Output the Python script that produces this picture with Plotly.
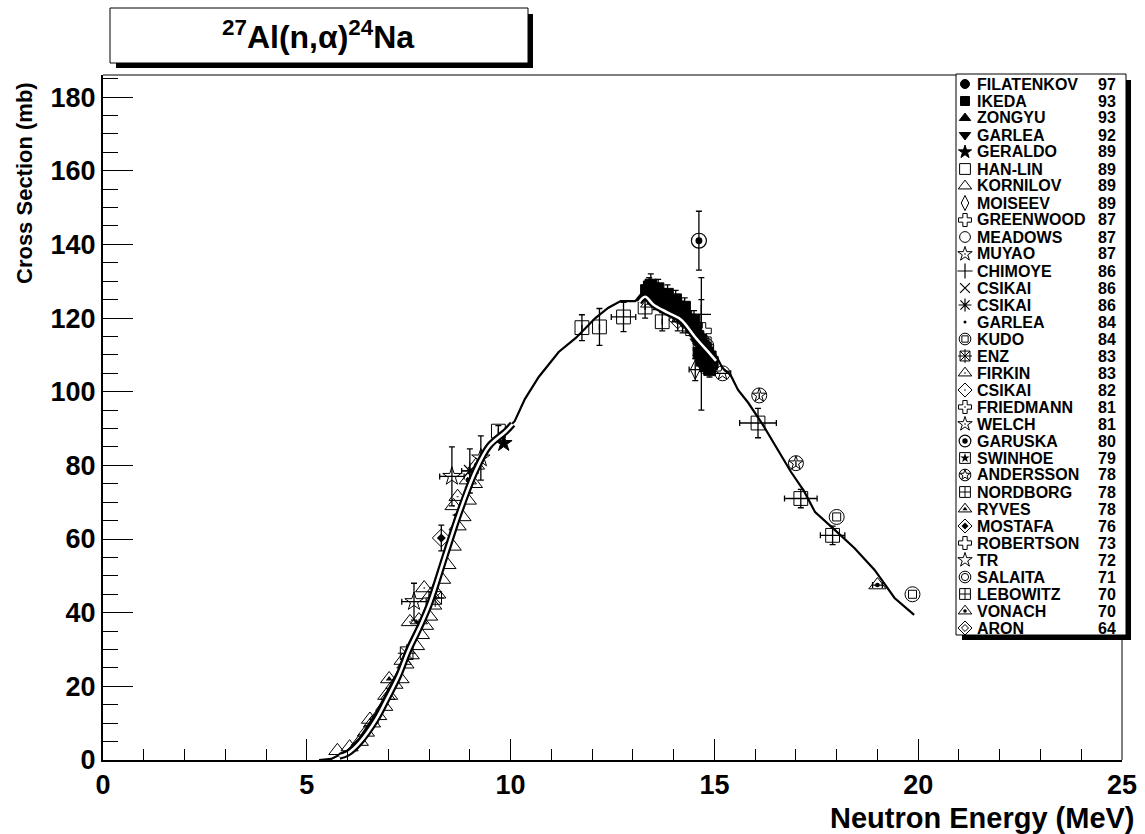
import plotly.graph_objects as go

# ---------------- data ----------------
curve_x = [5.30, 5.60, 6.00, 6.30, 6.70, 7.00, 7.25, 7.50, 7.75, 8.00, 8.40, 8.73, 9.14, 9.47, 9.88,
           10.10, 10.35, 10.69, 11.18, 11.60, 12.08, 12.40, 12.70, 13.06, 13.20, 13.50, 13.87, 14.19,
           14.53, 14.85, 15.04, 15.20, 15.40, 15.58, 15.83, 16.19, 16.88, 17.20, 17.47, 17.96, 18.44,
           18.93, 19.42, 19.90]
curve_y = [0.0, 0.3, 2.5, 6.0, 12.7, 19.0, 24.4, 31.5, 37.0, 43.4, 57.0, 68.0, 79.6, 86.0, 89.6,
           92.0, 98.0, 104.0, 110.8, 114.6, 120.0, 122.8, 124.6, 124.6, 126.5, 124.7, 122.6, 120.7,
           116.0, 112.0, 109.8, 106.4, 104.5, 100.5, 97.0, 91.0, 78.2, 73.0, 67.3, 62.4, 57.5,
           51.6, 44.0, 39.4]

bandA_x = [5.80, 6.00, 6.30, 6.70, 7.00, 7.25, 7.50, 7.75, 8.00, 8.40, 8.73, 9.14, 9.47, 9.88, 10.05]
bandA_y = [1.0, 1.8, 4.8, 11.0, 17.3, 22.8, 29.8, 35.6, 42.0, 55.6, 66.7, 78.5, 85.2, 89.2, 91.2]
bandB_x = [13.15, 13.30, 13.50, 13.87, 14.19, 14.53, 14.85, 15.04]
bandB_y = [124.3, 125.8, 123.7, 121.4, 119.5, 114.8, 110.8, 108.4]

filatenkov_x = [13.45, 13.74, 14.05, 14.34, 14.64, 14.86]
filatenkov_y = [126.0, 125.0, 122.5, 119.5, 114.0, 110.0]
filatenkov_ey = [2.0, 2.0, 2.0, 2.0, 2.0, 2.0]

ikeda_x = [13.33, 13.40, 13.46, 13.52, 13.58, 13.64, 13.70, 13.76, 13.82, 13.88, 13.94, 14.00, 14.06,
           14.12, 14.18, 14.24, 14.30, 14.36, 14.42, 14.48, 14.54, 14.60, 14.66, 14.72, 14.78, 14.84,
           14.90, 14.95, 14.62, 14.70, 14.78, 14.88, 14.93, 13.44, 13.62, 13.85, 14.05, 14.27, 14.50]
ikeda_y = [127.5, 128.5, 127.0, 127.5, 127.0, 126.5, 126.0, 125.5, 125.5, 124.5, 124.0, 123.5, 123.5,
           123.0, 122.0, 121.5, 120.5, 119.5, 118.5, 117.5, 116.5, 115.0, 114.0, 112.5, 111.5, 110.5,
           109.5, 108.0, 110.5, 108.5, 107.0, 106.0, 107.5, 129.0, 128.0, 126.5, 125.0, 123.0, 119.5]
ikeda_ey = [2.0, 2.5, 2.0, 2.0, 2.5, 2.0, 2.0, 2.5, 2.0, 2.0, 2.0, 2.5, 2.0,
            2.0, 2.5, 2.0, 2.0, 2.5, 2.0, 2.0, 2.5, 2.0, 2.0, 2.5, 2.0, 2.0,
            2.5, 2.0, 2.0, 2.0, 2.0, 2.0, 2.0, 3.0, 2.5, 2.5, 2.5, 2.5, 2.5]

zongyu_x = [13.55, 14.02, 14.47, 14.82]
zongyu_y = [124.8, 121.5, 116.8, 111.0]
zongyu_ey = [2.5, 2.5, 2.5, 2.5]

garlea92_x = [14.22, 14.74]
garlea92_y = [119.0, 112.5]
garlea92_ey = [3.0, 3.0]

geraldo_x = [9.83]
geraldo_y = [86.0]

hanlin_x = [9.70, 11.75, 12.18, 12.77, 13.30, 13.72, 16.07, 17.12, 17.90]
hanlin_y = [89.3, 117.4, 117.6, 120.3, 123.0, 119.0, 91.5, 71.0, 61.0]
hanlin_ey = [1.5, 3.5, 5.0, 4.0, 3.0, 2.5, 4.0, 2.5, 2.5]
hanlin_ex = [0.0, 0.0, 0.0, 0.3, 0.0, 0.0, 0.45, 0.4, 0.3]

kornilov_x = [5.75, 6.05, 6.30, 6.45, 6.60, 6.75, 6.90, 7.02, 7.15, 7.30, 7.42, 7.55, 7.68, 7.80,
              7.90, 8.00, 8.10, 8.20, 8.32, 8.45, 8.58, 8.70, 8.82, 8.95, 9.10]
kornilov_y = [2.5, 3.5, 5.0, 7.5, 10.0, 12.0, 14.5, 17.5, 20.5, 22.0, 26.0, 28.5, 31.0, 34.0,
              36.5, 39.0, 42.0, 45.0, 49.0, 53.0, 58.0, 63.5, 66.0, 70.5, 75.0]

moiseev_x = [14.53]
moiseev_y = [106.0]
moiseev_ey = [3.0]
moiseev_ex = [0.15]

greenwood_x = [14.72]
greenwood_y = [116.5]
meadows_x = [14.70]
meadows_y = [114.0]

muyao_x = [7.63, 8.56]
muyao_y = [43.0, 77.0]
muyao_ey = [5.0, 8.0]
muyao_ex = [0.3, 0.3]

chimoye_x = [14.68]
chimoye_y = [121.0]
chimoye_ey = [10.0]

csikai86x_x = [14.62]
csikai86x_y = [111.5]
csikai86a_x = [9.00]
csikai86a_y = [78.5]
csikai86a_ey = [6.0]
csikai86a_ex = [0.2]

garlea84_x = [14.68, 7.70, 8.15, 8.65]
garlea84_y = [110.0, 37.5, 47.5, 66.5]
garlea84_ey = [15.0, 0.0, 0.0, 0.0]

kudo_x = [18.00, 19.86]
kudo_y = [66.0, 45.0]
enz_x = [7.45, 8.15]
enz_y = [29.0, 44.0]
firkin_x = [6.55, 6.95, 7.35, 7.53, 7.75, 7.88, 8.05, 8.60, 8.70]
firkin_y = [11.0, 17.5, 27.0, 37.5, 38.0, 46.7, 45.0, 69.0, 71.5]
csikai82_x = [14.70]
csikai82_y = [110.0]
friedmann_x = [14.50]
friedmann_y = [116.0]
welch_x = [9.27]
welch_y = [82.0]
welch_ey = [6.0]
garuska_x = [14.62]
garuska_y = [141.0]
garuska_ey = [8.0]
swinhoe_x = [14.80]
swinhoe_y = [111.0]
andersson_x = [15.20, 16.10, 17.00]
andersson_y = [105.0, 99.0, 80.6]
andersson_ex = [0.2, 0.0, 0.0]
nordborg_x = [14.75]
nordborg_y = [113.0]
ryves_x = [13.40, 14.40, 7.02]
ryves_y = [124.0, 117.5, 22.0]
mostafa_x = [8.30]
mostafa_y = [60.3]
mostafa_ey = [3.5]
robertson_x = [14.50]
robertson_y = [118.0]
tr_x = [14.10]
tr_y = [121.0]
salaita_x = [14.80]
salaita_y = [112.5]
lebowitz_x = [14.65]
lebowitz_y = [113.0]
vonach_x = [19.00, 8.95, 9.15]
vonach_y = [47.5, 76.0, 80.0]
vonach_ex = [0.12, 0.0, 0.0]
aron_x = [14.10]
aron_y = [119.5]
aron_ey = [3.0]

legend_names = ["FILATENKOV", "IKEDA", "ZONGYU", "GARLEA", "GERALDO", "HAN-LIN", "KORNILOV", "MOISEEV",
                "GREENWOOD", "MEADOWS", "MUYAO", "CHIMOYE", "CSIKAI", "CSIKAI", "GARLEA", "KUDO", "ENZ",
                "FIRKIN", "CSIKAI", "FRIEDMANN", "WELCH", "GARUSKA", "SWINHOE", "ANDERSSON", "NORDBORG",
                "RYVES", "MOSTAFA", "ROBERTSON", "TR", "SALAITA", "LEBOWITZ", "VONACH", "ARON"]
legend_years = ["97", "93", "93", "92", "89", "89", "89", "89", "87", "87", "87", "86", "86", "86", "84",
                "84", "83", "83", "82", "81", "81", "80", "79", "78", "78", "78", "76", "73", "72", "71",
                "70", "70", "64"]

x_ticks = [0, 5, 10, 15, 20, 25]
y_ticks = [0, 20, 40, 60, 80, 100, 120, 140, 160, 180]

# ---------------- styles ----------------
SPECS = [
    [("circle", 10, 1)],
    [("square", 10, 1)],
    [("triangle-up", 11, 1)],
    [("triangle-down", 11, 1)],
    [("star", 11, 1)],
    [("square-open", 12, 1)],
    [("triangle-up-open", 13, 1)],
    [("diamond-tall-open", 12, 1)],
    [("cross-open", 12, 1)],
    [("circle-open", 12, 1)],
    [("star-open-dot", 12, 1)],
    [("cross-thin-open", 12, 1.2)],
    [("x-thin-open", 11, 1.2)],
    [("asterisk-open", 12, 1.2)],
    [("circle", 3, 0)],
    [("circle-open", 13, 1), ("square-open", 7, 1)],
    [("square-x-open", 11, 1), ("cross-thin-open", 11, 1)],
    [("triangle-up-open-dot", 13, 1)],
    [("diamond-open-dot", 12, 1)],
    [("cross-open-dot", 12, 1)],
    [("star-open-dot", 12, 1)],
    [("circle-open", 13, 1.2), ("circle", 6, 0)],
    [("square-open", 12, 1), ("star", 8, 0)],
    [("circle-open", 13, 1), ("star-open", 9, 1)],
    [("square-cross-open", 12, 1)],
    [("triangle-up-open", 13, 1), ("triangle-up", 5, 0)],
    [("diamond-open", 12, 1), ("diamond", 6, 0)],
    [("cross-open", 12, 1)],
    [("star-open", 12, 1)],
    [("circle-open", 13, 1), ("circle-open", 8, 1)],
    [("square-cross-open", 12, 1)],
    [("triangle-up-open", 13, 1), ("circle", 4, 0)],
    [("diamond-open", 12, 1), ("diamond-open", 6, 1)],
]

datasets = [
    (filatenkov_x, filatenkov_y, filatenkov_ey, None),
    (ikeda_x, ikeda_y, ikeda_ey, None),
    (zongyu_x, zongyu_y, zongyu_ey, None),
    (garlea92_x, garlea92_y, garlea92_ey, None),
    (geraldo_x, geraldo_y, None, None),
    (hanlin_x, hanlin_y, hanlin_ey, hanlin_ex),
    (kornilov_x, kornilov_y, None, None),
    (moiseev_x, moiseev_y, moiseev_ey, moiseev_ex),
    (greenwood_x, greenwood_y, None, None),
    (meadows_x, meadows_y, None, None),
    (muyao_x, muyao_y, muyao_ey, muyao_ex),
    (chimoye_x, chimoye_y, chimoye_ey, None),
    (csikai86x_x, csikai86x_y, None, None),
    (csikai86a_x, csikai86a_y, csikai86a_ey, csikai86a_ex),
    (garlea84_x, garlea84_y, garlea84_ey, None),
    (kudo_x, kudo_y, None, None),
    (enz_x, enz_y, None, None),
    (firkin_x, firkin_y, None, None),
    (csikai82_x, csikai82_y, None, None),
    (friedmann_x, friedmann_y, None, None),
    (welch_x, welch_y, welch_ey, None),
    (garuska_x, garuska_y, garuska_ey, None),
    (swinhoe_x, swinhoe_y, None, None),
    (andersson_x, andersson_y, None, andersson_ex),
    (nordborg_x, nordborg_y, None, None),
    (ryves_x, ryves_y, None, None),
    (mostafa_x, mostafa_y, mostafa_ey, None),
    (robertson_x, robertson_y, None, None),
    (tr_x, tr_y, None, None),
    (salaita_x, salaita_y, None, None),
    (lebowitz_x, lebowitz_y, None, None),
    (vonach_x, vonach_y, None, vonach_ex),
    (aron_x, aron_y, aron_ey, None),
]

# pixel geometry of plot frame
L, R, T, B = 103, 1122, 75, 760
W, H = 1145, 834
DATA_SCALE = 1.15
LEG_SCALE = 0.9


def px(xp):
    return (xp - L) / (R - L)


def py(yp):
    return (B - yp) / (B - T)


FONT = "Liberation Sans, Arial, Helvetica, sans-serif"

fig = go.Figure()

# evaluation curve
fig.add_trace(go.Scatter(x=curve_x, y=curve_y, mode="lines",
                         line=dict(color="black", width=2.2), showlegend=False, hoverinfo="skip"))

# data points
for (dx, dy, dey, dex), spec in zip(datasets, SPECS):
    for k, (sym, size, lw) in enumerate(spec):
        kw = {}
        if k == 0 and dey is not None:
            kw["error_y"] = dict(type="data", array=dey, visible=True, color="black", thickness=1.3, width=3)
        if k == 0 and dex is not None:
            kw["error_x"] = dict(type="data", array=dex, visible=True, color="black", thickness=1.3, width=3)
        fig.add_trace(go.Scatter(
            x=dx, y=dy, mode="markers",
            marker=dict(symbol=sym, size=size * DATA_SCALE, color="black", line=dict(color="black", width=lw)),
            showlegend=False, hoverinfo="skip", **kw))

# bands (black outline with white center), drawn over the points
for bx, by in [(bandA_x, bandA_y), (bandB_x, bandB_y)]:
    fig.add_trace(go.Scatter(x=bx, y=by, mode="lines", line=dict(color="black", width=7, shape="spline"),
                             showlegend=False, hoverinfo="skip"))
    fig.add_trace(go.Scatter(x=bx, y=by, mode="lines", line=dict(color="white", width=2.6, shape="spline"),
                             showlegend=False, hoverinfo="skip"))

# legend markers on a pixel-coordinate overlay axis
LEG_X0, LEG_Y0, LEG_DY = 965, 84, 17.0
for i, spec in enumerate(SPECS):
    for sym, size, lw in spec:
        fig.add_trace(go.Scatter(
            x=[LEG_X0], y=[LEG_Y0 + i * LEG_DY], xaxis="x2", yaxis="y2", mode="markers",
            marker=dict(symbol=sym, size=max(size * LEG_SCALE, 3), color="black",
                        line=dict(color="black", width=lw)),
            showlegend=False, hoverinfo="skip", cliponaxis=False))

shapes = []
# frame top/right thin lines
shapes.append(dict(type="line", xref="paper", yref="paper", x0=0, x1=1, y0=1, y1=1,
                   line=dict(color="black", width=1), layer="below"))
shapes.append(dict(type="line", xref="paper", yref="paper", x0=1, x1=1, y0=0, y1=1,
                   line=dict(color="black", width=1), layer="below"))
# legend box with shadow
shapes.append(dict(type="rect", xref="paper", yref="paper", x0=px(962), x1=px(1131), y0=py(640), y1=py(80),
                   fillcolor="black", line=dict(width=0), layer="below"))
shapes.append(dict(type="rect", xref="paper", yref="paper", x0=px(956), x1=px(1126), y0=py(635), y1=py(74),
                   fillcolor="white", line=dict(color="black", width=1), layer="below"))
# title box with shadow
shapes.append(dict(type="rect", xref="paper", yref="paper", x0=px(116), x1=px(533), y0=py(68), y1=py(14),
                   fillcolor="black", line=dict(width=0), layer="below"))
shapes.append(dict(type="rect", xref="paper", yref="paper", x0=px(110), x1=px(528), y0=py(63), y1=py(8),
                   fillcolor="white", line=dict(color="black", width=1), layer="below"))

annotations = []
for i, (nm, yr) in enumerate(zip(legend_names, legend_years)):
    yy = LEG_Y0 + i * LEG_DY
    annotations.append(dict(x=px(975), y=py(yy), xref="paper", yref="paper", text=nm, showarrow=False,
                            xanchor="left", yanchor="middle",
                            font=dict(family=FONT, size=16, color="black", weight="bold")))
    annotations.append(dict(x=px(1118), y=py(yy), xref="paper", yref="paper", text=yr, showarrow=False,
                            xanchor="right", yanchor="middle",
                            font=dict(family=FONT, size=16, color="black", weight="bold")))

annotations.append(dict(x=px(318), y=py(35), xref="paper", yref="paper",
                        text="<sup>27</sup>Al(n,\u03b1)<sup>24</sup>Na", showarrow=False,
                        xanchor="center", yanchor="middle",
                        font=dict(family=FONT, size=32, color="black", weight="bold")))
annotations.append(dict(x=px(1137), y=py(818), xref="paper", yref="paper",
                        text="Neutron Energy (MeV)", showarrow=False, xanchor="right", yanchor="middle",
                        font=dict(family=FONT, size=29, color="black", weight="bold")))
annotations.append(dict(x=px(24), y=py(80), xref="paper", yref="paper",
                        text="Cross Section (mb)", showarrow=False, textangle=-90,
                        xanchor="center", yanchor="top",
                        font=dict(family=FONT, size=22, color="black", weight="bold")))

fig.update_layout(
    width=W, height=H,
    margin=dict(l=L, r=W - R, t=T, b=H - B, autoexpand=False),
    paper_bgcolor="white", plot_bgcolor="white",
    showlegend=False,
    xaxis=dict(range=[0, 25], tickmode="array", tickvals=x_ticks, ticktext=[str(v) for v in x_ticks],
               ticks="inside", ticklen=21, tickwidth=1, tickcolor="black",
               minor=dict(dtick=1, ticks="inside", ticklen=11, tickwidth=1, tickcolor="black"),
               showline=True, linewidth=2, linecolor="black", showgrid=False, zeroline=False,
               tickfont=dict(family=FONT, size=27, color="black", weight="bold"), fixedrange=True),
    yaxis=dict(range=[0, 186], tickmode="array", tickvals=y_ticks, ticktext=[str(v) for v in y_ticks],
               ticks="inside", ticklen=30, tickwidth=1, tickcolor="black",
               minor=dict(dtick=5, ticks="inside", ticklen=15, tickwidth=1, tickcolor="black"),
               showline=True, linewidth=2, linecolor="black", showgrid=False, zeroline=False,
               tickfont=dict(family=FONT, size=27, color="black", weight="bold"), fixedrange=True),
    xaxis2=dict(range=[L, R], overlaying="x", anchor="y2", visible=False, fixedrange=True),
    yaxis2=dict(range=[B, T], overlaying="y", anchor="x2", visible=False, fixedrange=True),
    shapes=shapes, annotations=annotations,
)

fig.write_html("out.html")
